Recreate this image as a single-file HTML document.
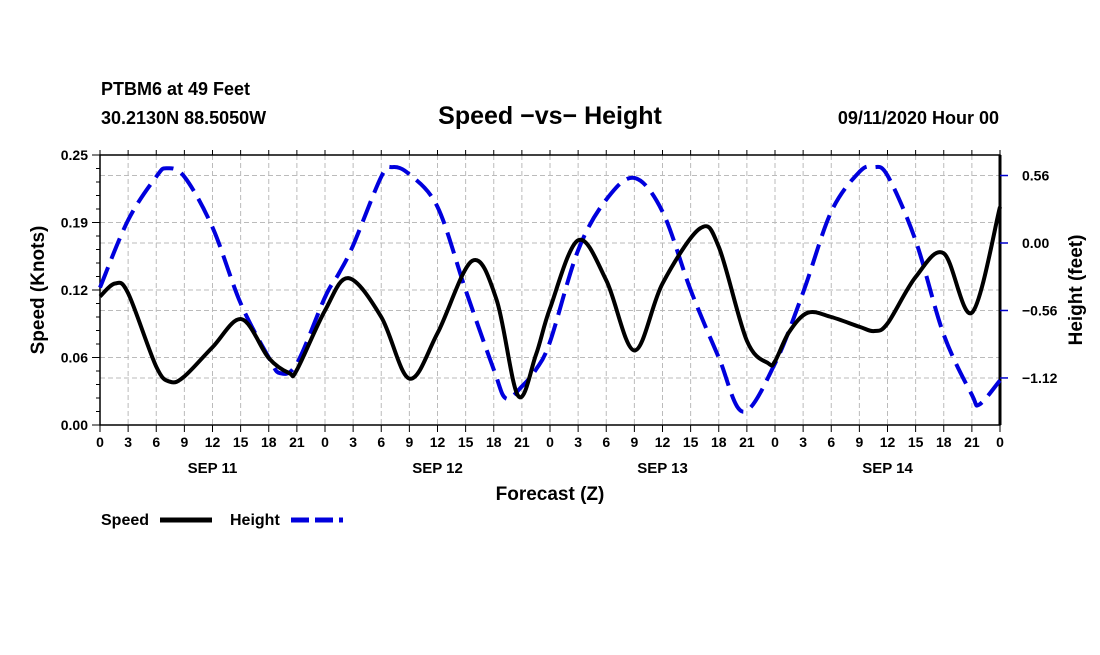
<!DOCTYPE html>
<html><head><meta charset="utf-8"><style>
body{margin:0;background:#fff;}
svg text{font-family:"Liberation Sans",sans-serif;font-weight:bold;fill:#000;}
</style></head><body>
<svg id="chart" width="1100" height="650" viewBox="0 0 1100 650" xmlns="http://www.w3.org/2000/svg">
<text x="101" y="95" font-size="18">PTBM6 at 49 Feet</text>
<text x="101" y="124" font-size="18">30.2130N 88.5050W</text>
<text x="550" y="124" font-size="25" text-anchor="middle">Speed −vs− Height</text>
<text x="999" y="124" font-size="18" text-anchor="end">09/11/2020 Hour 00</text>
<g id="grid"></g><g id="axes"></g><g id="series"></g>
<text transform="translate(44,290) rotate(-90)" font-size="19" text-anchor="middle">Speed (Knots)</text>
<text transform="translate(1082,290) rotate(-90)" font-size="19" text-anchor="middle">Height (feet)</text>
<text x="550" y="500" font-size="19" text-anchor="middle">Forecast (Z)</text>
<g>
<text x="101" y="525" font-size="16">Speed</text>
<line x1="160" y1="520" x2="212" y2="520" stroke="#000" stroke-width="5"/>
<text x="230" y="525" font-size="16">Height</text>
<line x1="291" y1="520" x2="343" y2="520" stroke="#0000dd" stroke-width="5" stroke-dasharray="18,6"/>
</g>
</svg>
<script>
const speedT=[0,1.6,3,6,7.5,9,12,15.1,18,20.2,21,24,26.5,30,33,36,39.7,42.3,44.6,46.5,48,51,54,57,60,64,66,69,71.3,72,73.5,75.5,78,81,82.6,84,87,90,93,96];
const speedV=[.119,.131,.122,.054,.040,.045,.072,.098,.062,.048,.051,.106,.136,.100,.043,.085,.152,.116,.027,.065,.108,.171,.134,.069,.131,.182,.165,.078,.057,.059,.086,.104,.100,.091,.087,.094,.137,.159,.104,.202];
const heightT=[0,3,6,7.1,9,12,15,18,19.2,21,24,25.5,27,30,31.2,33,36,39,42,43.3,45,46.5,48,51,54,57,60,63,66,68.6,72,75,78,81,82.5,84,87,90,93,93.8,96];
const heightV=[-0.37,0.19,0.55,0.62,0.55,0.13,-0.50,-0.95,-1.08,-1.00,-0.45,-0.25,-0.02,0.55,0.63,0.57,0.30,-0.39,-1.05,-1.29,-1.19,-1.05,-0.82,-0.06,0.36,0.54,0.26,-0.39,-0.95,-1.40,-1.00,-0.41,0.26,0.59,0.63,0.56,0.02,-0.76,-1.26,-1.34,-1.14];
const leftTicks=[0,0.0625,0.125,0.1875,0.25];
const leftLabels=["0.00","0.06","0.12","0.19","0.25"];
const rightTicks=[0.56,0,-0.56,-1.12];
const rightLabels=["0.56","0.00","−0.56","−1.12"];
const hourLabels=["0","3","6","9","12","15","18","21"];
const dayLabels=["SEP 11","SEP 12","SEP 13","SEP 14"];
const L=100,R=1000,T=155,B=425;
const x=t=>L+t*(R-L)/96;
const yL=v=>B-v*(B-T)/0.25;
const yR=h=>243-h*120.5;
const NS="http://www.w3.org/2000/svg";
function mk(tag,attrs,parent){const e=document.createElementNS(NS,tag);for(const k in attrs)e.setAttribute(k,attrs[k]);parent.appendChild(e);return e;}
const grid=document.getElementById('grid'),axes=document.getElementById('axes'),series=document.getElementById('series');
mk('rect',{x:L,y:T,width:R-L,height:B-T,fill:'#fff'},grid);
for(let t=3;t<96;t+=3){const l=mk('line',{x1:x(t),x2:x(t),y1:T,y2:B,stroke:'#bbb','stroke-dasharray':'5,3'},grid);

}
leftTicks.slice(1,4).forEach(v=>{const l=mk('line',{x1:L,x2:R,y1:yL(v),y2:yL(v),stroke:'#bbb','stroke-dasharray':'5,3'},grid);

});
rightTicks.forEach(v=>{const l=mk('line',{x1:L,x2:R,y1:yR(v),y2:yR(v),stroke:'#bbb','stroke-dasharray':'5,3'},grid);

});
mk('rect',{x:L,y:T,width:R-L,height:B-T,fill:'none',stroke:'#000','stroke-width':1.5},axes);
mk('line',{x1:R,x2:R,y1:T,y2:B,stroke:'#000','stroke-width':3},axes);
for(let v=0;v<=0.25001;v+=0.25/20){mk('line',{x1:L-4,x2:L,y1:yL(v),y2:yL(v),stroke:'#000'},axes);}
leftTicks.forEach((v,i)=>{mk('line',{x1:L-8,x2:L,y1:yL(v),y2:yL(v),stroke:'#000'},axes);
const tx=mk('text',{x:L-12,y:yL(v)+5,'font-size':14,'text-anchor':'end'},axes);tx.textContent=leftLabels[i];

});
rightTicks.forEach((v,i)=>{mk('line',{x1:R,x2:R+8,y1:yR(v),y2:yR(v),stroke:'#00c','stroke-width':1.5},axes);
const tx=mk('text',{x:R+22,y:yR(v)+5,'font-size':14},axes);tx.textContent=rightLabels[i];

});
for(let t=0;t<=96;t+=3){mk('line',{x1:x(t),x2:x(t),y1:B,y2:B+7,stroke:'#000'},axes);mk('line',{x1:x(t),x2:x(t),y1:T,y2:T-5,stroke:'#000'},axes);
const tx=mk('text',{x:x(t),y:B+22,'font-size':14,'text-anchor':'middle'},axes);tx.textContent=hourLabels[(t/3)%8];

}
dayLabels.forEach((d,i)=>{const tx=mk('text',{x:x(i*24+12),y:B+48,'font-size':15,'text-anchor':'middle'},axes);tx.textContent=d;

});
function smooth(pts){let d=`M${pts[0][0]},${pts[0][1]}`;for(let i=0;i<pts.length-1;i++){const p0=pts[Math.max(0,i-1)],p1=pts[i],p2=pts[i+1],p3=pts[Math.min(pts.length-1,i+2)];
const c1=[p1[0]+(p2[0]-p0[0])/6,p1[1]+(p2[1]-p0[1])/6],c2=[p2[0]-(p3[0]-p1[0])/6,p2[1]-(p3[1]-p1[1])/6];
d+=` C${c1[0]},${c1[1]} ${c2[0]},${c2[1]} ${p2[0]},${p2[1]}`;}return d;}
const hp=mk('path',{d:smooth(heightT.map((t,i)=>[x(t),yR(heightV[i])])),fill:'none',stroke:'#0000dd','stroke-width':4,'stroke-dasharray':'22,9'},series);


const sp=mk('path',{d:smooth(speedT.map((t,i)=>[x(t),yL(speedV[i])])),fill:'none',stroke:'#000','stroke-width':4},series);


</script>
</body></html>
